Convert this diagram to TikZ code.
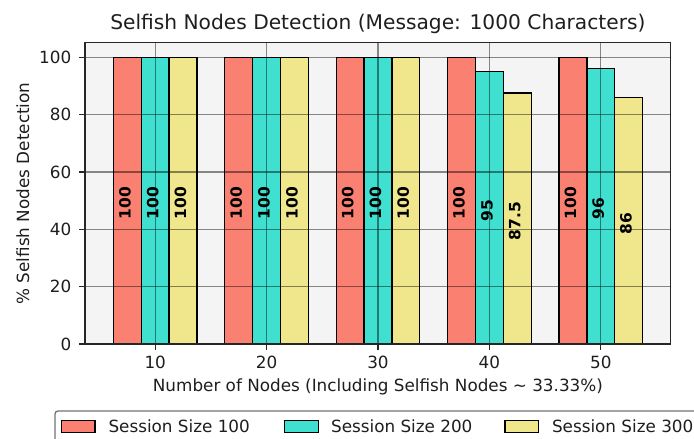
\documentclass[tikz,border=0pt]{standalone}
\usepackage{fontspec}
\setmainfont{DejaVu Sans}
\definecolor{salmonc}{RGB}{250,128,114}
\definecolor{turqc}{RGB}{64,224,208}
\definecolor{khakic}{RGB}{240,230,140}
\definecolor{axbg}{RGB}{244,244,244}
\definecolor{inkc}{RGB}{30,30,30}
\begin{document}
\begin{tikzpicture}[x=1pt,y=-1pt,
  barline/.style={draw=black, line width=1.3pt},
  gridline/.style={draw=black, draw opacity=0.45, line width=1.3pt},
  spine/.style={draw=black!85, line width=1.3pt},
  tickmark/.style={draw=black!85, line width=1.3pt},
  ticklabel/.style={inner sep=0pt, text=inkc, font=\fontsize{16.8}{20}\selectfont},
  vlabel/.style={inner sep=0pt, rotate=90, text=black, font=\fontsize{15.5}{18}\selectfont\bfseries},
  axlabel/.style={inner sep=0pt, text=inkc, font=\fontsize{16.8}{20}\selectfont},
  legpatch/.style={draw=black, line width=1.2pt},
]
\useasboundingbox (0,0) rectangle (694,439);
\fill[white] (0,0) rectangle (694,439);

% plotting area
\fill[axbg] (85,42.7) rectangle (670.7,344);

% grouped bars: centre / session 100 / session 200 / session 300
\foreach \c/\a/\b/\d [count=\i] in
  {155.2/100/100/100, 266.6/100/100/100, 378.0/100/100/100,
   489.4/100/95/87.5, 600.8/100/96/86} {
  \draw[barline, fill=salmonc] (\c-41.8,344) rectangle (\c-13.9,{344-2.867*\a});
  \draw[barline, fill=turqc]   (\c-13.9,344) rectangle (\c+13.9,{344-2.867*\b});
  \draw[barline, fill=khakic]  (\c+13.9,344) rectangle (\c+41.8,{344-2.867*\d});
}

% grid over the bars
\begin{scope}
  \clip (85,42.7) rectangle (670.7,344);
  \foreach \v in {0,20,...,100}
    \draw[gridline] (85,{344-2.867*\v}) -- (670.7,{344-2.867*\v});
  \foreach \c in {155.2,266.6,378.0,489.4,600.8}
    \draw[gridline] (\c,42.7) -- (\c,344);
\end{scope}

% value labels
\foreach \c/\a/\b/\d [count=\i] in
  {155.2/100/100/100, 266.6/100/100/100, 378.0/100/100/100,
   489.4/100/95/87.5, 600.8/100/96/86} {
  \node[vlabel] (val-\i-a) at (\c-30.3,{344-2.867*\a/2+2.5}) {\a};
  \node[vlabel] (val-\i-b) at (\c-2.5,{344-2.867*\b/2+2.5}) {\b};
  \node[vlabel] (val-\i-c) at (\c+25.3,{344-2.867*\d/2+2.5}) {\d};
}

% frame
\draw[spine] (85,42.7) rectangle (670.7,344);

% y ticks
\foreach \v in {0,20,...,100} {
  \draw[tickmark] (79,{344-2.867*\v}) -- (85,{344-2.867*\v});
  \node[ticklabel, anchor=east] (ytick-\v) at (71.5,{344-2.867*\v}) {\v};
}
% x ticks
\foreach \c/\t in {155.2/10,266.6/20,378.0/30,489.4/40,600.8/50} {
  \draw[tickmark] (\c,344) -- (\c,350);
  \node[ticklabel, anchor=north] (xtick-\t) at (\c,355.8) {\t};
}

% titles
\node[inner sep=0pt, anchor=base, text=inkc, font=\fontsize{20.2}{24}\selectfont]
  (title) at (377.9,30) {Selfish Nodes Detection (Message: 1000 Characters)};
\node[axlabel, anchor=base] (xlabel) at (377.9,391.7)
  {Number of Nodes (Including Selfish Nodes \textasciitilde{} 33.33\%)};
\node[axlabel, anchor=base, rotate=90] (ylabel) at (29,193.4)
  {\% Selfish Nodes Detection};

% legend
\draw[draw=black!55, line width=1.3pt, fill=white, rounded corners=3pt]
  (55,411) rectangle (720,470);
\draw[legpatch, fill=salmonc] (61.7,420.7) rectangle (95,432.3);
\node[axlabel, anchor=base west] (leg-a) at (108.3,432) {Session Size 100};
\draw[legpatch, fill=turqc] (284.3,420.7) rectangle (318.3,432.3);
\node[axlabel, anchor=base west] (leg-b) at (330.9,432) {Session Size 200};
\draw[legpatch, fill=khakic] (505,420.7) rectangle (538.3,432.3);
\node[axlabel, anchor=base west] (leg-c) at (551.8,432) {Session Size 300};
\end{tikzpicture}
\end{document}
